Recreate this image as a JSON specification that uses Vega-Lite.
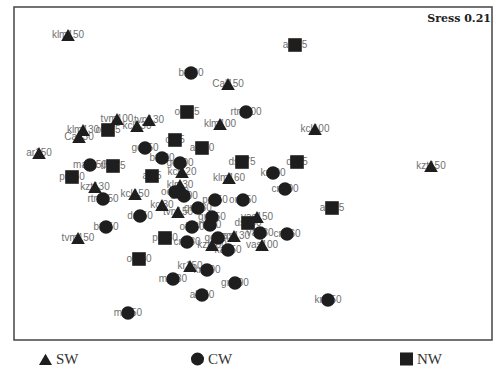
{
  "$schema": "https://vega.github.io/schema/vega-lite/v6.json",
  "width": 478,
  "height": 333,
  "autosize": "none",
  "padding": {"left": 14, "top": 7, "right": 1, "bottom": 29},
  "background": "white",
  "config": {"view": {"stroke": "#444", "strokeWidth": 1.5}},
  "datasets": {
    "pts": [
      {"label": "klm150", "group": "SW", "d1": -1.85, "d2": 1.385},
      {"label": "Cal150", "group": "SW", "d1": -0.25, "d2": 0.895},
      {"label": "klm100", "group": "SW", "d1": -0.33, "d2": 0.495},
      {"label": "kcl100", "group": "SW", "d1": 0.62, "d2": 0.445},
      {"label": "kzt150", "group": "SW", "d1": 1.78, "d2": 0.075},
      {"label": "tvm100", "group": "SW", "d1": -1.36, "d2": 0.545},
      {"label": "tvn130", "group": "SW", "d1": -1.04, "d2": 0.535},
      {"label": "kcl130", "group": "SW", "d1": -1.16, "d2": 0.475},
      {"label": "Ca130", "group": "SW", "d1": -1.74, "d2": 0.365},
      {"label": "klm130", "group": "SW", "d1": -1.7, "d2": 0.435},
      {"label": "ar150", "group": "SW", "d1": -2.14, "d2": 0.205},
      {"label": "kzt130", "group": "SW", "d1": -1.58, "d2": -0.135},
      {"label": "kcl150", "group": "SW", "d1": -1.18, "d2": -0.205},
      {"label": "klm160", "group": "SW", "d1": -0.24, "d2": -0.045},
      {"label": "kcl120", "group": "SW", "d1": -0.71, "d2": 0.015},
      {"label": "klm30", "group": "SW", "d1": -0.73, "d2": -0.115},
      {"label": "kcl30", "group": "SW", "d1": -0.91, "d2": -0.315},
      {"label": "tvn150", "group": "SW", "d1": -0.75, "d2": -0.385},
      {"label": "vas150", "group": "SW", "d1": 0.04, "d2": -0.435},
      {"label": "tvm150", "group": "SW", "d1": -1.75, "d2": -0.645},
      {"label": "kzt100", "group": "SW", "d1": -0.41, "d2": -0.715},
      {"label": "vas130", "group": "SW", "d1": -0.19, "d2": -0.625},
      {"label": "vas100", "group": "SW", "d1": 0.09, "d2": -0.715},
      {"label": "kr150", "group": "SW", "d1": -0.63, "d2": -0.925},
      {"label": "bt300", "group": "CW", "d1": -0.62, "d2": 1.005},
      {"label": "rtm100", "group": "CW", "d1": -0.07, "d2": 0.615},
      {"label": "gc150", "group": "CW", "d1": -1.08, "d2": 0.255},
      {"label": "bt100", "group": "CW", "d1": -0.91, "d2": 0.155},
      {"label": "gc100", "group": "CW", "d1": -0.73, "d2": 0.105},
      {"label": "mar150", "group": "CW", "d1": -1.63, "d2": 0.085},
      {"label": "rtm150", "group": "CW", "d1": -1.5, "d2": -0.255},
      {"label": "kr100", "group": "CW", "d1": 0.2, "d2": 0.005},
      {"label": "cn100", "group": "CW", "d1": 0.32, "d2": -0.155},
      {"label": "od150", "group": "CW", "d1": -0.78, "d2": -0.185},
      {"label": "od100", "group": "CW", "d1": -0.69, "d2": -0.225},
      {"label": "gn130", "group": "CW", "d1": -0.55, "d2": -0.345},
      {"label": "pr150", "group": "CW", "d1": -0.38, "d2": -0.265},
      {"label": "on150", "group": "CW", "d1": -0.1, "d2": -0.265},
      {"label": "dr150", "group": "CW", "d1": -1.13, "d2": -0.425},
      {"label": "gn150", "group": "CW", "d1": -0.41, "d2": -0.435},
      {"label": "of130", "group": "CW", "d1": -0.61, "d2": -0.535},
      {"label": "rt150", "group": "CW", "d1": -0.43, "d2": -0.515},
      {"label": "bt150", "group": "CW", "d1": -1.47, "d2": -0.535},
      {"label": "cn130", "group": "CW", "d1": -0.66, "d2": -0.685},
      {"label": "gc130", "group": "CW", "d1": -0.35, "d2": -0.645},
      {"label": "ka150", "group": "CW", "d1": -0.25, "d2": -0.765},
      {"label": "va130", "group": "CW", "d1": 0.07, "d2": -0.595},
      {"label": "cn160", "group": "CW", "d1": 0.34, "d2": -0.605},
      {"label": "kn100", "group": "CW", "d1": -0.46, "d2": -0.965},
      {"label": "mr130", "group": "CW", "d1": -0.8, "d2": -1.055},
      {"label": "gn100", "group": "CW", "d1": -0.18, "d2": -1.095},
      {"label": "al150", "group": "CW", "d1": -0.51, "d2": -1.215},
      {"label": "kn150", "group": "CW", "d1": 0.75, "d2": -1.265},
      {"label": "mr150", "group": "CW", "d1": -1.25, "d2": -1.395},
      {"label": "al175", "group": "NW", "d1": 0.42, "d2": 1.285},
      {"label": "of175", "group": "NW", "d1": -0.66, "d2": 0.615},
      {"label": "ot175", "group": "NW", "d1": -1.45, "d2": 0.435},
      {"label": "of75", "group": "NW", "d1": -0.78, "d2": 0.335},
      {"label": "al180", "group": "NW", "d1": -0.51, "d2": 0.255},
      {"label": "th175", "group": "NW", "d1": -1.4, "d2": 0.075},
      {"label": "pr150", "group": "NW", "d1": -1.81, "d2": -0.035},
      {"label": "al75", "group": "NW", "d1": -1.01, "d2": -0.025},
      {"label": "ds175", "group": "NW", "d1": -0.11, "d2": 0.115},
      {"label": "ds75", "group": "NW", "d1": 0.44, "d2": 0.115},
      {"label": "al275", "group": "NW", "d1": 0.79, "d2": -0.345},
      {"label": "ds150", "group": "NW", "d1": -0.05, "d2": -0.495},
      {"label": "pr130", "group": "NW", "d1": -0.88, "d2": -0.645},
      {"label": "of150", "group": "NW", "d1": -1.14, "d2": -0.855}
    ],
    "stress": [{"t": "Sress 0.21", "d1": 2.38, "d2": 1.545}]
  },
  "layer": [
    {
      "data": {"name": "pts"},
      "mark": {"type": "text", "font": "Liberation Sans", "fontSize": 10, "color": "#707070", "align": "center", "baseline": "middle"},
      "encoding": {
        "x": {"field": "d1", "type": "quantitative", "scale": {"domain": [-2.39, 2.39], "nice": false, "zero": false}, "axis": null},
        "y": {"field": "d2", "type": "quantitative", "scale": {"domain": [-1.665, 1.665], "nice": false, "zero": false}, "axis": null},
        "text": {"field": "label"}
      }
    },
    {
      "data": {"name": "pts"},
      "mark": {"type": "point", "filled": true, "opacity": 1, "size": 185, "color": "#1e1e1e"},
      "encoding": {
        "x": {"field": "d1", "type": "quantitative"},
        "y": {"field": "d2", "type": "quantitative"},
        "shape": {
          "field": "group", "type": "nominal",
          "scale": {"domain": ["SW", "CW", "NW"], "range": ["triangle-up", "circle", "square"]},
          "legend": {
            "title": null, "orient": "none", "direction": "horizontal",
            "legendX": 24, "legendY": 344, "padding": 0,
            "gridAlign": "each", "columnPadding": 108,
            "symbolSize": 170, "symbolFillColor": "#111", "symbolStrokeColor": "#111", "symbolType": "circle",
            "labelFont": "Liberation Serif", "labelFontSize": 15, "labelColor": "#333", "labelOffset": 3,
            "labelExpr": "datum.label == 'CW' ? 'CW\u2800\u2800\u2800\u2800\u2800' : datum.label"
          }
        }
      }
    },
    {
      "data": {"name": "stress"},
      "mark": {"type": "text", "font": "DejaVu Serif", "fontWeight": "bold", "fontSize": 11, "color": "#222", "align": "right", "baseline": "middle"},
      "encoding": {
        "x": {"field": "d1", "type": "quantitative"},
        "y": {"field": "d2", "type": "quantitative"},
        "text": {"field": "t"}
      }
    }
  ]
}
